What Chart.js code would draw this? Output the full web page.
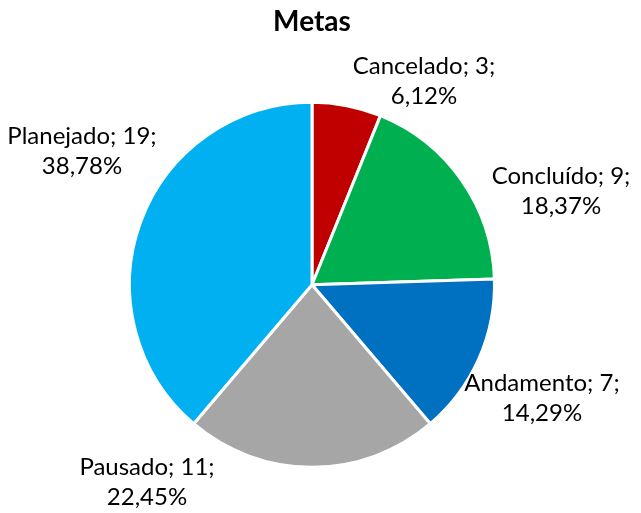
<!DOCTYPE html>
<html>
<head>
<meta charset="utf-8">
<script src="https://cdn.jsdelivr.net/npm/chart.js@4"></script>
<style>
  html, body { margin: 0; padding: 0; background: #fff; }
  #wrap { width: 641px; height: 513px; }
</style>
</head>
<body>
<div id="wrap"><canvas id="chart"></canvas></div>
<script>
const categories = ['Cancelado', 'Concluído', 'Andamento', 'Pausado', 'Planejado'];
const values = [3, 9, 7, 11, 19];
const colors = ['#C00000', '#00B050', '#0070C0', '#A6A6A6', '#00B0F0'];

// where each label sits, relative to the pie centre (Excel "best fit" spots)
const labelOffsets = [[112, -204], [249, -94], [230, 113], [-165, 197], [-230, -134]];

const total = values.reduce((a, b) => a + b, 0);

const pieLabels = {
    id: 'pieLabels',
    afterDatasetsDraw(chart) {
        const ctx = chart.ctx;
        const arc = chart.getDatasetMeta(0).data[0];
        ctx.save();
        ctx.font = '24px Lato, "Open Sans", sans-serif';
        ctx.fillStyle = '#000';
        ctx.textAlign = 'center';
        ctx.textBaseline = 'middle';
        categories.forEach((c, i) => {
            const pct = (values[i] / total * 100).toFixed(2).replace('.', ',');
            const x = arc.x + labelOffsets[i][0];
            const y = arc.y + labelOffsets[i][1];
            ctx.fillText(`${c}; ${values[i]};`, x, y - 15);
            ctx.fillText(`${pct}%`, x, y + 15);
        });
        ctx.restore();
    }
};

new Chart(document.getElementById('chart'), {
    type: 'pie',
    data: {
        labels: categories,
        datasets: [{
            data: values,
            backgroundColor: colors,
            borderColor: '#fff',
            borderWidth: 3
        }]
    },
    options: {
        responsive: true,
        maintainAspectRatio: false,
        animation: false,
        layout: { padding: { left: 128, right: 145, top: 0, bottom: 44 } },
        plugins: {
            legend: { display: false },
            tooltip: { enabled: false },
            title: {
                display: true,
                text: 'Metas',
                color: '#000',
                font: { family: 'Lato, "Open Sans", sans-serif', size: 28, weight: 'bold' },
                padding: { top: 5, bottom: 62 }
            }
        }
    },
    plugins: [pieLabels]
});
</script>
</body>
</html>
